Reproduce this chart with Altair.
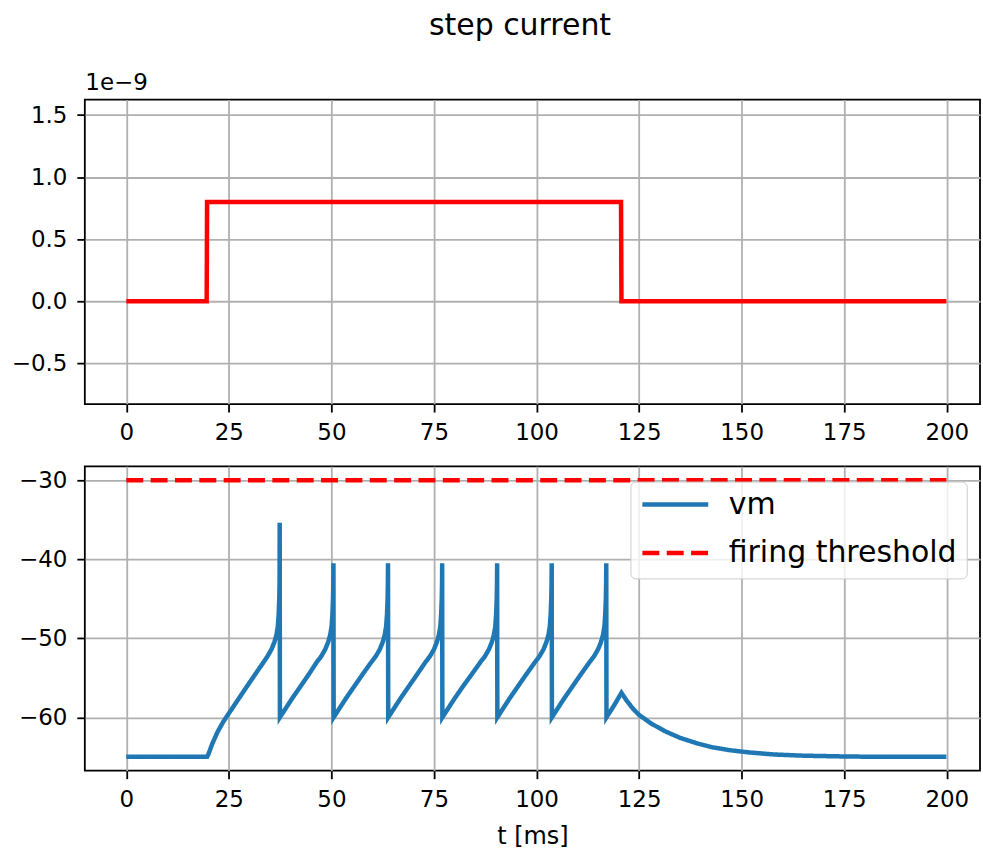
import altair as alt
import pandas as pd

FONT = "DejaVu Sans"

# ---- top panel: injected step current (A) ----
t_current = [0.0, 19.6, 19.7, 120.6, 120.7, 199.9]
i_current = [0.0, 0.0, 0.8e-9, 0.8e-9, 0.0, 0.0]

# ---- bottom panel: membrane voltage (mV) ----
vm_points = [
    (0.0, -65.0), (19.7, -65.0),
    (20.0, -64.7), (21.0, -63.3), (22.3, -61.8), (23.6, -60.6), (25.0, -59.5),
    (27.2, -57.8), (29.4, -56.1), (31.5, -54.5), (33.5, -53.0), (34.4, -52.3),
    (35.4, -51.4), (36.1, -50.5), (36.6, -49.6), (36.95, -48.5), (37.15, -47.0),
    (37.3, -45.0), (37.37, -43.0), (37.4, -35.4),
    (37.45, -60.0), (38.95, -58.8), (40.45, -57.6), (42.45, -56.1), (44.45, -54.6),
    (46.45, -53.0), (47.5, -52.3), (48.5, -51.4), (49.2, -50.5), (49.7, -49.6),
    (50.05, -48.5), (50.25, -47.0), (50.4, -45.0), (50.47, -43.0), (50.5, -40.5),
    (50.55, -60.0), (52.05, -58.8), (53.55, -57.6), (55.55, -56.1), (57.55, -54.6),
    (59.75, -53.0), (60.8, -52.3), (61.8, -51.4), (62.5, -50.5), (63.0, -49.6),
    (63.35, -48.5), (63.55, -47.0), (63.7, -45.0), (63.77, -43.0), (63.8, -40.5),
    (63.85, -60.0), (65.35, -58.8), (66.85, -57.6), (68.85, -56.1), (70.85, -54.6),
    (72.95, -53.0), (74.0, -52.3), (75.0, -51.4), (75.7, -50.5), (76.2, -49.6),
    (76.55, -48.5), (76.75, -47.0), (76.9, -45.0), (76.97, -43.0), (77.0, -40.5),
    (77.05, -60.0), (78.55, -58.8), (80.05, -57.6), (82.05, -56.1), (84.15, -54.6),
    (86.35, -53.0), (87.4, -52.3), (88.4, -51.4), (89.1, -50.5), (89.6, -49.6),
    (89.95, -48.5), (90.15, -47.0), (90.3, -45.0), (90.37, -43.0), (90.4, -40.5),
    (90.45, -60.0), (91.95, -58.8), (93.45, -57.6), (95.45, -56.1), (97.45, -54.6),
    (99.65, -53.0), (100.7, -52.3), (101.7, -51.4), (102.4, -50.5), (102.9, -49.6),
    (103.25, -48.5), (103.45, -47.0), (103.6, -45.0), (103.67, -43.0), (103.7, -40.5),
    (103.75, -60.0), (105.25, -58.8), (106.75, -57.6), (108.75, -56.1), (110.75, -54.6),
    (112.95, -53.0), (114.0, -52.3), (115.0, -51.4), (115.7, -50.5), (116.2, -49.6),
    (116.55, -48.5), (116.75, -47.0), (116.9, -45.0), (116.97, -43.0), (117.0, -40.5),
    (117.05, -60.0), (118.9, -58.5), (120.7, -56.9),
    (122.0, -57.9), (123.5, -58.9), (125.0, -59.7), (128.0, -60.8), (131.5, -61.8),
    (135.0, -62.6), (139.5, -63.35), (143.0, -63.8), (147.0, -64.15), (152.0, -64.45),
    (158.0, -64.7), (165.0, -64.85), (175.0, -64.95), (185.0, -65.0), (199.9, -65.0),
]
threshold_t = [0.0, 199.9]
threshold_v = [-30.0, -30.0]

series_names = ["vm", "firing threshold"]
series_colors = ["#1f77b4", "#ff0000"]
series_dashes = [[1, 0], [17, 7.4]]

x_ticks = [0, 25, 50, 75, 100, 125, 150, 175, 200]
top_y_ticks = [-0.5e-9, 0.0, 0.5e-9, 1.0e-9, 1.5e-9]
bottom_y_ticks = [-60, -50, -40, -30]

X_DOMAIN = [-10.1, 208.1]
TOP_Y_DOMAIN = [-0.827e-9, 1.624e-9]
BOTTOM_Y_DOMAIN = [-66.75, -28.25]
W, H = 897, 305

cur_df = pd.DataFrame({"t": t_current, "I": i_current, "idx": range(len(t_current))})
vm_df = pd.DataFrame({"t": [p[0] for p in vm_points], "v": [p[1] for p in vm_points]})
vm_df["series"] = "vm"
thr_df = pd.DataFrame({"t": threshold_t, "v": threshold_v})
thr_df["series"] = "firing threshold"
volt_df = pd.concat([vm_df, thr_df], ignore_index=True)
volt_df["idx"] = range(len(volt_df))

axis_common = dict(
    grid=True, gridColor="#b0b0b0", gridWidth=1.8,
    domain=False, tickColor="black", tickWidth=1.8, tickSize=8,
    labelFont=FONT, labelFontSize=23, labelColor="black", labelPadding=10,
)

x_top = alt.X("t:Q", scale=alt.Scale(domain=X_DOMAIN, nice=False, zero=False),
              axis=alt.Axis(values=x_ticks, title=None, **axis_common))
x_bottom = alt.X("t:Q", scale=alt.Scale(domain=X_DOMAIN, nice=False, zero=False),
                 axis=alt.Axis(values=x_ticks, title="t [ms]", titleFont=FONT,
                               titleFontSize=24, titleFontWeight="normal",
                               titleColor="black", titlePadding=13, **axis_common))

top = alt.Chart(cur_df).mark_line(
    color="#ff0000", strokeWidth=4.5, strokeJoin="miter", strokeCap="butt"
).encode(
    x=x_top,
    y=alt.Y("I:Q", scale=alt.Scale(domain=TOP_Y_DOMAIN, nice=False, zero=False),
            axis=alt.Axis(values=top_y_ticks,
                          labelExpr="replace(format(datum.value*1e9, '.1f'), '-', '\u2212')",
                          title="1e\u22129", titleAngle=0, titleAlign="left",
                          titleBaseline="alphabetic", titleX=0, titleY=-10,
                          titleFont=FONT, titleFontSize=23, titleFontWeight="normal",
                          titleColor="black", **axis_common)),
    order="idx:Q",
).properties(width=W, height=H)

bottom = alt.Chart(volt_df).mark_line(
    strokeWidth=4.5, strokeJoin="miter", strokeCap="butt"
).encode(
    x=x_bottom,
    y=alt.Y("v:Q", scale=alt.Scale(domain=BOTTOM_Y_DOMAIN, nice=False, zero=False),
            axis=alt.Axis(values=bottom_y_ticks,
                          labelExpr="replace(datum.label, '-', '\u2212')",
                          title=None, **axis_common)),
    color=alt.Color("series:N", scale=alt.Scale(domain=series_names, range=series_colors),
                    legend=alt.Legend(title=None)),
    strokeDash=alt.StrokeDash("series:N", scale=alt.Scale(domain=series_names, range=series_dashes),
                              legend=alt.Legend(title=None)),
    detail="series:N",
    order="idx:Q",
).properties(width=W, height=H)

chart = alt.vconcat(
    top, bottom, spacing=62.4, bounds="flush",
    title=alt.TitleParams("step current", font=FONT, fontSize=30, fontWeight="normal",
                          color="black", anchor="middle", offset=30, dx=24.5),
).properties(
    padding={"left": 10, "top": 10, "right": 2, "bottom": 4},
).configure_view(
    stroke="black", strokeWidth=1.8,
).configure_legend(
    orient="none", legendX=546.7, legendY=382.7,
    symbolType="stroke", symbolSize=4356, symbolStrokeWidth=4.5,
    labelFont=FONT, labelFontSize=30, labelColor="black", labelOffset=18,
    clipHeight=27, rowPadding=17.6, padding=9.5,
    fillColor="rgba(255,255,255,0.8)", strokeColor="#cccccc", cornerRadius=5,
    labelLimit=400,
)

chart.save("out.html", embed_options={"renderer": "svg", "actions": False})
